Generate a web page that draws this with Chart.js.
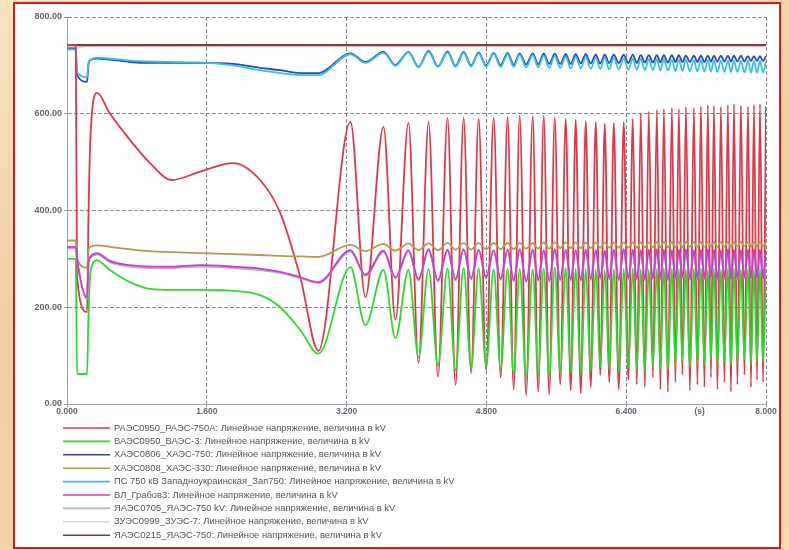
<!DOCTYPE html>
<html>
<head>
<meta charset="utf-8">
<script src="https://cdn.jsdelivr.net/npm/chart.js@4.4.1/dist/chart.umd.min.js"></script>
<style>
  html, body { margin: 0; padding: 0; }
  body {
    width: 789px; height: 550px; overflow: hidden; position: relative;
    background: linear-gradient(165deg, #f9e2bf 0%, #f2cf9f 45%, #f6d9b0 100%);
  }
  #panel {
    position: absolute; left: 13px; top: 2px; width: 764px; height: 543px;
    border: 2px solid #d01c1c; background: #ffffff;
  }
  #c { display: block; }
</style>
</head>
<body>
<div id="panel"><canvas id="c" width="764" height="543"></canvas></div>
<script>
// Time axis, seconds
const xTickValues = [0, 1.6, 3.2, 4.8, 6.4, 8.0];
const yTickStep = 200;

// Sample times for the fault and the slow post-fault swing
const earlyTimes = [0, 0.10, 0.115, 0.23, 0.245, 0.27, 0.344, 0.49, 0.72, 0.95, 1.20, 1.52, 1.90, 2.21, 2.44, 2.67];

// Extremes of the asynchronous swing (trough i comes before peak i)
const troughTimes = [2.877, 3.415, 3.759, 4.023, 4.246, 4.447, 4.625, 4.797, 4.963, 5.112,
  5.255, 5.393, 5.519, 5.645, 5.765, 5.880, 5.994, 6.103, 6.206, 6.315,
  6.424, 6.521, 6.613, 6.705, 6.791, 6.877, 6.963, 7.043, 7.129, 7.215,
  7.295, 7.370, 7.444, 7.524, 7.599, 7.673, 7.753, 7.828, 7.897, 7.966];
const peakTimes = [3.244, 3.622, 3.908, 4.138, 4.355, 4.539, 4.711, 4.883, 5.043, 5.181,
  5.330, 5.456, 5.582, 5.708, 5.822, 5.937, 6.052, 6.155, 6.258, 6.372,
  6.476, 6.567, 6.659, 6.751, 6.831, 6.923, 7.003, 7.083, 7.175, 7.255,
  7.335, 7.404, 7.484, 7.564, 7.633, 7.713, 7.794, 7.862, 7.931, 8.000];

// Line voltages, kV
const raesEarly = [742, 742, 262, 190, 380, 560, 643, 601, 546, 498, 463, 480, 498, 463, 395, 262];
const raesTroughs = [110, 221, 174, 85, 56, 39, 64, 70, 55, 30, 18, 25, 20, 40, 28, 22, 35, 60, 45, 30,
  50, 40, 35, 55, 30, 25, 45, 60, 28, 40, 35, 55, 30, 45, 25, 40, 60, 35, 50, 45];
const raesPeaks = [583, 573, 581, 583, 592, 592, 590, 592, 594, 596, 595, 596, 592, 590, 588, 585, 583, 580, 581, 583,
  590, 600, 605, 608, 610, 612, 610, 614, 612, 615, 618, 616, 614, 618, 620, 617, 615, 618, 620, 616];

const vaesEarly = [300, 300, 62, 62, 180, 275, 297, 277, 252, 238, 236, 236, 234, 225, 200, 153];
const vaesTroughs = [104, 163, 136, 97, 80, 70, 75, 78, 72, 62, 55, 60, 58, 66, 64, 60, 68, 76, 72, 66,
  74, 70, 68, 78, 72, 70, 80, 88, 76, 82, 80, 90, 78, 86, 80, 84, 92, 82, 88, 86];
const vaesPeaks = [283, 277, 277, 279, 280, 281, 280, 278, 280, 279, 278, 280, 282, 281, 280, 279, 278, 277, 279, 280,
  281, 279, 278, 280, 281, 280, 279, 278, 280, 281, 279, 280, 278, 280, 281, 279, 280, 278, 279, 280];

const haes750Early = [735, 735, 680, 666, 700, 711, 714, 712, 707, 705, 705, 705, 703, 695, 690, 684];
const haes750Troughs = [684, 707, 701, 697, 698, 699, 700, 700, 701, 701, 702, 702, 703, 703, 703, 704, 704, 704, 705, 705,
  705, 705, 706, 706, 706, 706, 707, 707, 707, 707, 707, 708, 708, 708, 708, 708, 708, 709, 709, 709];
const haes750Peaks = [725, 728, 728, 730, 729, 728, 727, 726, 726, 725, 725, 724, 724, 723, 723, 723, 722, 722, 722, 722,
  722, 721, 721, 721, 721, 721, 721, 720, 720, 720, 720, 720, 720, 720, 720, 720, 719, 719, 719, 719];

const haes330Early = [338, 338, 300, 282, 318, 325, 328, 325, 320, 316, 314, 312, 310, 308, 306, 305];
const haes330Troughs = [304, 316, 317, 318, 318, 319, 319, 320, 320, 320, 321, 321, 321, 322, 322, 322, 322, 323, 323, 323,
  323, 323, 324, 324, 324, 324, 324, 324, 325, 325, 325, 325, 325, 325, 325, 326, 326, 326, 326, 326];
const haes330Peaks = [329, 331, 332, 332, 333, 333, 333, 333, 333, 333, 333, 334, 334, 334, 334, 334, 334, 334, 334, 334,
  334, 334, 334, 335, 335, 335, 335, 335, 335, 335, 335, 335, 335, 335, 335, 335, 335, 335, 335, 335];

const zapEarly = [733, 733, 686, 676, 705, 712, 716, 714, 710, 708, 707, 706, 700, 690, 684, 680];
const zapTroughs = [680, 705, 699, 696, 697, 697, 698, 698, 697, 697, 696, 696, 695, 695, 694, 694, 693, 693, 692, 692,
  691, 691, 690, 690, 689, 689, 688, 688, 688, 687, 687, 687, 686, 686, 686, 686, 685, 685, 685, 685];
const zapPeaks = [723, 726, 727, 728, 727, 726, 725, 724, 723, 722, 721, 720, 719, 718, 718, 717, 716, 716, 715, 715,
  714, 714, 713, 713, 713, 712, 712, 712, 711, 711, 711, 711, 710, 710, 710, 710, 710, 709, 709, 709];

const grabovEarly = [325, 325, 300, 220, 290, 305, 312, 296, 287, 284, 284, 287, 284, 280, 273, 262];
const grabovTroughs = [252, 267, 262, 258, 256, 258, 260, 262, 259, 256, 255, 257, 256, 258, 258, 257, 259, 261, 260, 258,
  260, 259, 258, 261, 259, 258, 260, 262, 259, 260, 260, 262, 259, 261, 259, 260, 262, 260, 261, 260];
const grabovPeaks = [318, 317, 318, 320, 319, 320, 319, 318, 319, 320, 319, 318, 320, 319, 318, 319, 318, 317, 319, 320,
  319, 318, 319, 320, 319, 318, 319, 320, 318, 319, 320, 319, 318, 320, 319, 318, 319, 320, 319, 318];

const yaes0705Early = [322, 322, 296, 216, 287, 302, 309, 293, 284, 281, 281, 284, 281, 277, 271, 260];
const yaes0705Troughs = [250, 265, 260, 255, 253, 255, 257, 259, 256, 253, 252, 254, 253, 255, 255, 254, 256, 258, 257, 255,
  257, 256, 255, 258, 256, 255, 257, 259, 256, 257, 257, 259, 256, 258, 256, 257, 259, 257, 258, 257];
const yaes0705Peaks = [315, 314, 315, 317, 316, 317, 316, 315, 316, 317, 316, 315, 317, 316, 315, 316, 315, 314, 316, 317,
  316, 315, 316, 317, 316, 315, 316, 317, 315, 316, 317, 316, 315, 317, 316, 315, 316, 317, 316, 315];

// Buses that hold steady near 740 kV
const steadyTimes = [0, 0.11, 0.25, 8.0];
const zues0999Values = [736, 736, 741, 742];
const yaes0215Values = [742, 742, 742, 742];

const seriesNames = [
  'РАЭС0950_РАЭС-750А: Линейное напряжение, величина в kV',
  'ВАЭС0950_ВАЭС-3: Линейное напряжение, величина в kV',
  'ХАЭС0806_ХАЭС-750: Линейное напряжение, величина в kV',
  'ХАЭС0808_ХАЭС-330: Линейное напряжение, величина в kV',
  'ПС 750 кВ Западноукраинская_Зап750: Линейное напряжение, величина в kV',
  'ВЛ_Грабов3: Линейное напряжение, величина в kV',
  'ЯАЭС0705_ЯАЭС-750 kV: Линейное напряжение, величина в kV',
  'ЗУЭС0999_ЗУЭС-7: Линейное напряжение, величина в kV',
  'ЯАЭС0215_ЯАЭС-750: Линейное напряжение, величина в kV'
];
const seriesColors = ['#d83a4c', '#2fd82f', '#2a4fa6', '#b39a52', '#3cbde2', '#c83ec6', '#b9a8d8', '#d4d4d4', '#8a3442'];

function swingPoints(early, troughs, peaks) {
  const pts = early.map((v, i) => ({ x: earlyTimes[i], y: v }));
  for (let i = 0; i < peakTimes.length; i++) {
    pts.push({ x: troughTimes[i], y: troughs[i] });
    pts.push({ x: peakTimes[i], y: peaks[i] });
  }
  return pts;
}
function steadyPoints(values) {
  return values.map((v, i) => ({ x: steadyTimes[i], y: v }));
}

const seriesData = [
  swingPoints(raesEarly, raesTroughs, raesPeaks),
  swingPoints(vaesEarly, vaesTroughs, vaesPeaks),
  swingPoints(haes750Early, haes750Troughs, haes750Peaks),
  swingPoints(haes330Early, haes330Troughs, haes330Peaks),
  swingPoints(zapEarly, zapTroughs, zapPeaks),
  swingPoints(grabovEarly, grabovTroughs, grabovPeaks),
  swingPoints(yaes0705Early, yaes0705Troughs, yaes0705Peaks),
  steadyPoints(zues0999Values),
  steadyPoints(yaes0215Values)
];
// drawing order: smaller number is painted on top
const drawOrder = [4, 3, 6, 2, 5, 0, 1, 8, 7];

const datasets = seriesData.map((pts, i) => ({
  label: seriesNames[i],
  data: pts,
  borderColor: seriesColors[i],
  borderWidth: i === 8 ? 2.2 : 1.8,
  pointRadius: 0,
  fill: false,
  cubicInterpolationMode: 'monotone',
  order: drawOrder[i]
}));

const legendBlock = {
  id: 'legendBlock',
  afterDraw(chart) {
    const ctx = chart.ctx;
    const left = chart.chartArea.left - 4;
    ctx.save();
    ctx.font = '9.4px "Liberation Sans", Arial, sans-serif';
    ctx.textBaseline = 'middle';
    seriesNames.forEach((name, i) => {
      const y = 424 + i * 13.4;
      ctx.strokeStyle = seriesColors[i];
      ctx.lineWidth = 1.6;
      ctx.beginPath();
      ctx.moveTo(left, y);
      ctx.lineTo(left + 47, y);
      ctx.stroke();
      ctx.fillStyle = '#555555';
      ctx.fillText(name, left + 51, y);
    });
    // unit of the time axis
    ctx.font = 'bold 8.5px "Liberation Sans", Arial, sans-serif';
    ctx.fillStyle = '#666666';
    ctx.textAlign = 'center';
    ctx.fillText('(s)', chart.chartArea.left + chart.chartArea.width * 0.905, 408);
    ctx.restore();
  }
};

new Chart(document.getElementById('c'), {
  type: 'line',
  data: { datasets },
  plugins: [legendBlock],
  options: {
    responsive: false,
    animation: false,
    devicePixelRatio: 1,
    layout: { padding: { left: 0, right: 13, top: 13, bottom: 123 } },
    plugins: { legend: { display: false }, tooltip: { enabled: false } },
    scales: {
      x: {
        type: 'linear', min: 0, max: 8,
        afterBuildTicks: s => { s.ticks = xTickValues.map(v => ({ value: v })); },
        afterFit: s => { s.height = 20; },
        ticks: {
          autoSkip: false, maxRotation: 0, padding: 0, color: '#666666',
          font: { family: '"Liberation Sans", Arial, sans-serif', size: 8.5, weight: 'bold' },
          callback: v => Number(v).toFixed(3)
        },
        grid: { color: '#8a8a8a', lineWidth: 1, tickLength: 3, tickColor: '#999999' },
        border: { display: true, color: '#a3a0b8', width: 1, dash: [4, 2] }
      },
      y: {
        min: 0, max: 800,
        ticks: {
          stepSize: yTickStep, padding: 2, color: '#666666',
          font: { family: '"Liberation Sans", Arial, sans-serif', size: 9, weight: 'bold' },
          callback: v => Number(v).toFixed(2)
        },
        afterFit: s => { s.width = 52; },
        grid: { color: '#8a8a8a', lineWidth: 1, tickLength: 3, tickColor: '#999999' },
        border: { display: true, color: '#a3a0b8', width: 1, dash: [4, 2] }
      }
    }
  }
});
</script>
</body>
</html>
